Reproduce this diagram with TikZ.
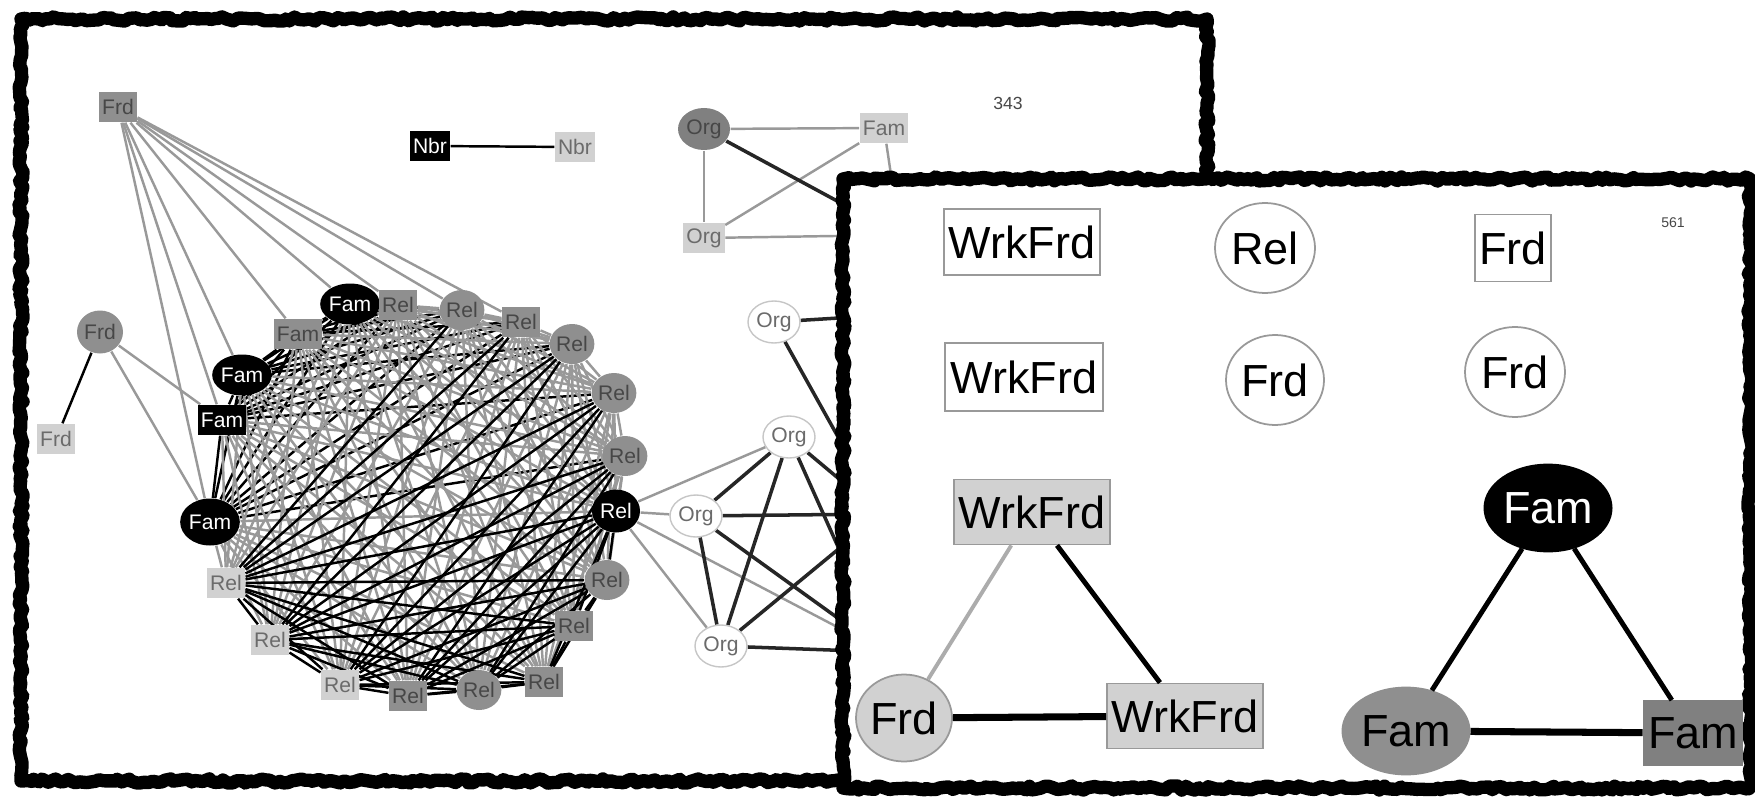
\documentclass[tikz,border=0pt]{standalone}
\usepackage{fontspec}
\setmainfont{Liberation Sans}
\usetikzlibrary{shapes.geometric,decorations.pathmorphing}

\pgfdeclarelayer{bg}
\pgfsetlayers{bg,main}

\definecolor{nodegray}{gray}{0.56}
\definecolor{orggray}{gray}{0.5}
\definecolor{nodelight}{gray}{0.82}
\definecolor{edgegray}{gray}{0.6}
\definecolor{txtgray}{gray}{0.28}
\definecolor{txtlight}{gray}{0.42}

\tikzset{
  lbl/.style={font=\fontsize{6}{7}\selectfont, inner xsep=0.3mm, inner ysep=0pt, minimum height=0.30cm, text=txtgray},
  sqgray/.style={lbl, rectangle, fill=nodegray},
  sqlight/.style={lbl, rectangle, fill=nodelight, text=txtlight},
  sqblack/.style={lbl, rectangle, fill=black, text=white},
  ovgray/.style={lbl, ellipse, inner sep=0pt, fill=nodegray, minimum width=0.40cm, minimum height=0.40cm},
  ovblack/.style={lbl, ellipse, inner sep=0pt, fill=black, text=white, minimum width=0.53cm, minimum height=0.41cm},
  ovwhite/.style={lbl, ellipse, inner sep=0pt, fill=white, draw=gray!45, text=txtlight, minimum width=0.52cm, minimum height=0.42cm},
  tie/.style={draw=edgegray, line width=0.7pt},
  kin/.style={draw=black, line width=0.7pt},
  orgtie/.style={draw=black!85, line width=1pt},
  roughframe/.style={draw=black, line width=3.8pt, line join=round, decorate,
    decoration={random steps, segment length=1.2pt, amplitude=0.6pt}},
  roughedge/.style={draw=black, line width=0.8pt, line join=round, decorate,
    decoration={random steps, segment length=0.9pt, amplitude=1pt}},
  bigtxt/.style={font=\fontsize{12.8}{14}\selectfont, inner sep=0pt},
  bigbox/.style={bigtxt, rectangle, draw=gray!80, line width=0.5pt},
  bigoval/.style={bigtxt, ellipse, draw=gray!80, line width=0.5pt}
}

\pgfmathsetseed{11}

\begin{document}
\begin{tikzpicture}
\useasboundingbox (0,0) rectangle (17.55,7.96);

% first network
\draw [roughframe](0.21,0.15) rectangle (12.07,7.77);
\draw [roughedge](0.21,0.15) rectangle (12.07,7.77);
\node [font=\fontsize{5}{6}\selectfont, text=txtgray] (num343) at (10.08,6.93) {343};

\node [sqgray] (frdA) at (1.18,6.89) {Frd};
\node [sqblack] (nbrA) at (4.30,6.50) {Nbr};
\node [sqlight] (nbrB) at (5.75,6.49) {Nbr};
\node [ovgray, minimum width=0.46cm, minimum height=0.43cm] (frdB) at (1.00,4.64) {Frd};
\node [sqlight] (frdC) at (0.56,3.57) {Frd};

% the big family circle
\node [ovblack, minimum height=0.47cm] (c0) at (2.10,2.74) {Fam};
\node [sqblack] (c1) at (2.22,3.76) {Fam};
\node [ovblack] (c2) at (2.42,4.21) {Fam};
\node [sqgray] (c3) at (2.98,4.62) {Fam};
\node [ovblack] (c4) at (3.50,4.92) {Fam};
\node [sqgray] (c5) at (3.98,4.91) {Rel};
\node [ovgray] (c6) at (4.62,4.86) {Rel};
\node [sqgray] (c7) at (5.21,4.74) {Rel};
\node [ovgray] (c8) at (5.72,4.52) {Rel};
\node [ovgray] (c9) at (6.14,4.03) {Rel};
\node [ovgray] (c10) at (6.25,3.40) {Rel};
\node [ovblack, minimum width=0.48cm, minimum height=0.43cm] (c11) at (6.16,2.85) {Rel};
\node [ovgray] (c12) at (6.07,2.16) {Rel};
\node [sqgray] (c13) at (5.74,1.70) {Rel};
\node [sqgray] (c14) at (5.44,1.14) {Rel};
\node [ovgray] (c15) at (4.79,1.06) {Rel};
\node [sqgray] (c16) at (4.08,1.00) {Rel};
\node [sqlight] (c17) at (3.40,1.11) {Rel};
\node [sqlight] (c18) at (2.70,1.56) {Rel};
\node [sqlight] (c19) at (2.26,2.13) {Rel};

% organisations
\node [ovgray, fill=orggray, minimum width=0.52cm, minimum height=0.42cm] (orgA) at (7.04,6.67) {Org};
\node [sqlight] (famF) at (8.84,6.68) {Fam};
\node [sqlight] (orgB) at (7.04,5.58) {Org};
\node [ovwhite] (orgC) at (7.74,4.74) {Org};
\node [ovwhite] (orgD) at (7.89,3.59) {Org};
\node [ovwhite] (orgE) at (6.96,2.80) {Org};
\node [ovwhite] (orgF) at (7.21,1.50) {Org};
\coordinate (hA) at (9.00,5.61);
\coordinate (hB) at (8.81,2.82);
\coordinate (hC) at (8.85,1.44);
\coordinate (hD) at (9.20,4.83);

\begin{pgfonlayer}{bg}
\foreach \i in {0,...,18}{
  \pgfmathtruncatemacro{\k}{\i+1}
  \foreach \j in {\k,...,19}{
    \pgfmathtruncatemacro{\s}{\i+\j}
    \pgfmathtruncatemacro{\dark}{(\s>4 && \s<11) || (\s>24 && \s<33) || (\j<5) || (\i>10 && \j-\i<3) || (\i>10 && \j>16)}
    \ifnum\dark=1 \draw [kin](c\i) -- (c\j); \else \draw [tie](c\i) -- (c\j); \fi
  }
}
\draw [tie](frdA) -- (c0);
\draw [tie](frdA) -- (c1);
\draw [tie](frdA) -- (c2);
\draw [tie](frdA) -- (c3);
\draw [tie](frdA) -- (c4);
\draw [tie](frdA) -- (c5);
\draw [tie](frdA) -- (c6);
\draw [tie](frdA) -- (c7);
\draw [tie](frdB) -- (c0);
\draw [tie](frdB) -- (c1);
\draw [kin](frdB) -- (frdC);
\draw [kin](nbrA) -- (nbrB);
\draw [tie](orgA) -- (famF);
\draw [tie](orgA) -- (orgB);
\draw [tie](orgB) -- (famF);
\draw [tie](orgB) -- (hA);
\draw [tie](famF) -- (hA);
\draw [orgtie](orgA) -- (hA);
\draw [tie](c11) -- (orgD);
\draw [tie](c11) -- (orgE);
\draw [tie](c11) -- (orgF);
\draw [tie](c11) -- (hC);
\draw [orgtie](orgC) -- (hD);
\draw [orgtie](orgC) -- (hB);
\draw [orgtie](orgD) -- (orgE);
\draw [orgtie](orgD) -- (orgF);
\draw [orgtie](orgE) -- (orgF);
\draw [orgtie](orgD) -- (hB);
\draw [orgtie](orgD) -- (hC);
\draw [orgtie](orgE) -- (hB);
\draw [orgtie](orgE) -- (hC);
\draw [orgtie](orgF) -- (hB);
\draw [orgtie](orgF) -- (hC);
\end{pgfonlayer}

% second network, lying on top
\draw [roughframe, fill=white](8.43,0.08) rectangle (17.50,6.17);
\draw [roughedge](8.43,0.08) rectangle (17.50,6.17);
\node [font=\fontsize{4}{5}\selectfont, text=txtgray] (num561) at (16.73,5.73) {561};

\node [bigbox, minimum width=1.56cm, minimum height=0.66cm] (wrkA) at (10.22,5.54) {WrkFrd};
\node [bigoval, minimum width=1.00cm, minimum height=0.90cm] (relR) at (12.65,5.48) {Rel};
\node [bigbox, minimum width=0.76cm, minimum height=0.67cm] (frdR) at (15.13,5.48) {Frd};
\node [bigbox, minimum width=1.58cm, minimum height=0.68cm] (wrkB) at (10.24,4.19) {WrkFrd};
\node [bigoval, minimum width=0.98cm, minimum height=0.90cm] (frdS) at (12.75,4.16) {Frd};
\node [bigoval, minimum width=1.00cm, minimum height=0.90cm] (frdT) at (15.15,4.24) {Frd};

\node [bigbox, fill=nodelight, minimum width=1.56cm, minimum height=0.65cm] (wrkC) at (10.32,2.84) {WrkFrd};
\node [bigoval, fill=nodelight, minimum width=0.96cm, minimum height=0.87cm] (frdU) at (9.04,0.78) {Frd};
\node [bigbox, fill=nodelight, minimum width=1.56cm, minimum height=0.65cm] (wrkD) at (11.85,0.80) {WrkFrd};
\draw [line width=1.1pt, draw=gray!65](wrkC) -- (frdU);
\draw [line width=1.4pt](wrkC) -- (wrkD);
\draw [line width=2pt](frdU) -- (wrkD);

\node [bigoval, fill=black, draw=black, text=white, minimum width=1.23cm, minimum height=0.87cm] (famR) at (15.48,2.88) {Fam};
\node [bigoval, fill=nodegray, draw=nodegray, minimum width=1.22cm, minimum height=0.87cm] (famS) at (14.06,0.65) {Fam};
\node [bigbox, fill=orggray, draw=gray, minimum width=0.99cm, minimum height=0.64cm] (famT) at (16.93,0.63) {Fam};
\draw [line width=1.4pt](famR) -- (famS);
\draw [line width=1.4pt](famR) -- (famT);
\draw [line width=2pt](famS) -- (famT);
\end{tikzpicture}
\end{document}
